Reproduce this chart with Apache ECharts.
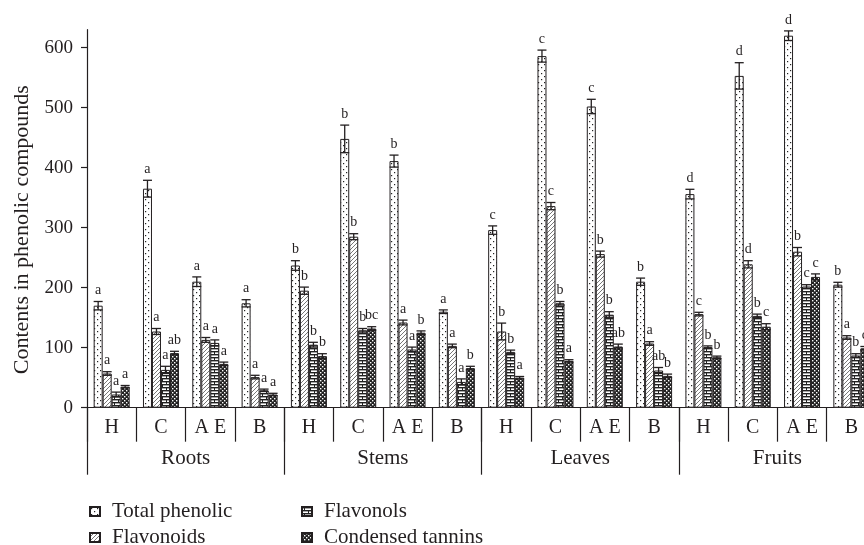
<!DOCTYPE html>
<html><head><meta charset="utf-8">
<script src="https://cdn.jsdelivr.net/npm/echarts@6/dist/echarts.min.js"></script>
<style>html,body{margin:0;padding:0;background:#fff}#c{width:864px;height:545px}</style>
</head><body><div id="c"></div>
<script>
// ---- data ----
const organs = ['Roots', 'Stems', 'Leaves', 'Fruits'];
const treatments = ['H', 'C', 'A E', 'B'];
const seriesNames = ['Total phenolic', 'Flavonoids', 'Flavonols', 'Condensed tannins'];
const yTicks = [0, 100, 200, 300, 400, 500, 600];
const yMax = 630;

const totalPhenolic    = [170, 365, 210, 174, 237, 448, 411, 160, 296, 586, 502, 210, 356, 553, 620, 205];
const totalPhenolicErr = [7, 14, 8, 6, 8, 23, 10, 3, 7, 10, 12, 6, 8, 22, 8, 4];
const flavonoids       = [57, 127, 113, 51, 195, 285, 142, 103, 127, 336, 256, 107, 156, 239, 260, 117];
const flavonoidsErr    = [3, 5, 4, 3, 6, 5, 4, 3, 14, 6, 5, 3, 3, 6, 7, 3];
const flavonols        = [22, 63, 108, 29, 105, 129, 97, 43, 93, 174, 155, 62, 101, 153, 202, 87];
const flavonolsErr     = [4, 6, 5, 2, 4, 3, 4, 5, 3, 3, 5, 5, 2, 3, 3, 3];
const tannins          = [35, 91, 73, 22, 86, 132, 125, 66, 50, 78, 102, 53, 84, 135, 218, 99];
const tanninsErr       = [2, 3, 3, 2, 4, 3, 3, 3, 2, 2, 4, 3, 2, 5, 5, 3];

const tpLetters        = ['a','a','a','a','b','b','b','a','c','c','c','b','d','d','d','b'];
const flavonoidLetters = ['a','a','a','a','b','b','a','a','b','c','b','a','c','d','b','a'];
const flavonolLetters  = ['a','a','a','a','b','b','a','a','b','b','b','ab','b','b','c','b'];
const tanninLetters    = ['a','ab','a','a','b','bc','b','b','a','a','ab','b','b','c','c','c'];

// ---- build ----
const subCategories = organs.flatMap(o => treatments.map(t => o + '|' + t));
const values = [totalPhenolic, flavonoids, flavonols, tannins];
const errs = [totalPhenolicErr, flavonoidsErr, flavonolsErr, tanninsErr];
const letters = [tpLetters, flavonoidLetters, flavonolLetters, tanninLetters];

const INK = '#231f20';
const SERIF = '"Liberation Serif", "Times New Roman", serif';
const BW = 9;

function tile(w, h, draw) {
  const c = document.createElement('canvas');
  c.width = w; c.height = h;
  const g = c.getContext('2d');
  g.fillStyle = '#fff'; g.fillRect(0, 0, w, h);
  draw(g);
  return c;
}
const patterns = [
  tile(6, 6, g => { g.fillStyle = '#222'; g.fillRect(1, 1, 1.2, 1.2); g.fillRect(4, 4, 1.2, 1.2); }),
  tile(4, 4, g => { g.strokeStyle = '#555'; g.lineWidth = 0.8; g.beginPath();
    g.moveTo(0, 4); g.lineTo(4, 0); g.moveTo(-1, 1); g.lineTo(1, -1); g.moveTo(3, 5); g.lineTo(5, 3); g.stroke(); }),
  tile(8, 6, g => { g.fillStyle = '#222'; g.fillRect(0, 0, 8, 1.4); g.fillRect(0, 3, 8, 1.4);
    g.fillRect(2, 0, 1, 3); g.fillRect(6, 3, 1, 3); }),
  tile(4, 4, g => { g.fillStyle = '#222'; g.fillRect(0, 0, 4, 4); g.fillStyle = '#fff';
    g.fillRect(0, 0, 1.4, 1.4); g.fillRect(2, 2, 1.4, 1.4); })
];

const barSeries = seriesNames.map((name, k) => ({
  type: 'bar', name: name, data: values[k], barWidth: BW, barGap: '0%',
  itemStyle: { color: { image: patterns[k], repeat: 'repeat' }, borderColor: INK, borderWidth: 1 },
  emphasis: { disabled: true }
}));

const errSeries = seriesNames.map((name, k) => ({
  type: 'custom', name: name + ' err', z: 10, silent: true,
  xAxisIndex: 0, yAxisIndex: 0,
  data: values[k].map((v, i) => [i, v, errs[k][i]]),
  renderItem: (params, api) => {
    const i = api.value(0), v = api.value(1), e = api.value(2);
    const x = api.coord([i, v])[0] + (k - 1.5) * BW;
    const yt = api.coord([i, v + e])[1];
    const yb = api.coord([i, v - e])[1];
    const hw = BW / 2;
    const st = { stroke: INK, lineWidth: 1.3 };
    return { type: 'group', children: [
      { type: 'line', shape: { x1: x, y1: yt, x2: x, y2: yb }, style: st },
      { type: 'line', shape: { x1: x - hw, y1: yt, x2: x + hw, y2: yt }, style: st },
      { type: 'line', shape: { x1: x - hw, y1: yb, x2: x + hw, y2: yb }, style: st },
      { type: 'text', style: { text: letters[k][params.dataIndex], x: x, y: yt - 4,
        align: 'center', verticalAlign: 'bottom', font: '14px ' + SERIF, fill: INK } }
    ] };
  }
}));

const legendPos = [[89, 501], [89, 527], [301, 501], [301, 527]];
const legends = seriesNames.map((name, k) => ({
  left: legendPos[k][0], top: legendPos[k][1], padding: 0, orient: 'vertical',
  itemWidth: 10, itemHeight: 9, icon: 'rect', data: [name], selectedMode: false,
  textStyle: { fontFamily: SERIF, fontSize: 21, color: INK, padding: [0, 0, 0, 7] }
}));

const chart = echarts.init(document.getElementById('c'));
chart.setOption({
  animation: false,
  backgroundColor: '#fff',
  textStyle: { fontFamily: SERIF, color: INK },
  grid: { left: 87, top: 29.7, width: 789, height: 378, outerBoundsMode: 'none', containLabel: false },
  legend: legends,
  xAxis: [
    { type: 'category', data: subCategories, position: 'bottom',
      axisLine: { show: true, lineStyle: { color: INK, width: 1.2 } },
      axisTick: { show: true, interval: 0, length: 34, lineStyle: { color: INK, width: 1.2 } },
      axisLabel: { interval: 0, margin: 10, fontSize: 20, fontFamily: SERIF, color: INK,
        formatter: v => v.split('|')[1] } },
    { type: 'category', data: organs, position: 'bottom', offset: 0,
      axisLine: { show: false },
      axisTick: { show: true, interval: 0, length: 67, lineStyle: { color: INK, width: 1.2 } },
      axisLabel: { interval: 0, margin: 40, fontSize: 21, fontFamily: SERIF, color: INK } }
  ],
  yAxis: {
    type: 'value', min: 0, max: yMax,
    name: 'Contents in phenolic compounds', nameLocation: 'middle', nameRotate: 90, nameGap: 52,
    nameTextStyle: { fontSize: 22, fontFamily: SERIF, color: INK, padding: [0, 22, 0, 0] },
    axisLine: { show: true, lineStyle: { color: INK, width: 1.2 } },
    axisTick: { show: true, length: 6, customValues: yTicks, lineStyle: { color: INK, width: 1.2 } },
    axisLabel: { margin: 14, fontSize: 19, fontFamily: SERIF, color: INK, customValues: yTicks },
    splitLine: { show: false }
  },
  series: [...barSeries, ...errSeries]
});
</script>
</body></html>
